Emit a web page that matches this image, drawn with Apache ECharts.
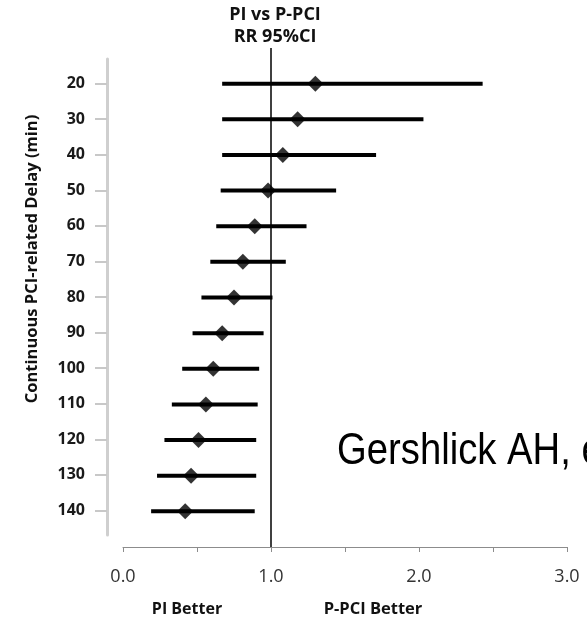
<!DOCTYPE html>
<html>
<head>
<meta charset="utf-8">
<style>
  html, body { margin: 0; padding: 0; background: #fff; }
  #main { width: 587px; height: 617px; }
</style>
</head>
<body>
<div id="main"></div>
<script src="https://cdn.jsdelivr.net/npm/echarts@6/dist/echarts.min.js"></script>
<script>
// delay (min) and RR with 95% CI
var delays = [20, 30, 40, 50, 60, 70, 80, 90, 100, 110, 120, 130, 140];
var rr     = [1.30, 1.18, 1.08, 0.98, 0.89, 0.81, 0.75, 0.67, 0.61, 0.56, 0.51, 0.46, 0.42];
var ciLow  = [0.67, 0.67, 0.67, 0.66, 0.63, 0.59, 0.53, 0.47, 0.40, 0.33, 0.28, 0.23, 0.19];
var ciHigh = [2.43, 2.03, 1.71, 1.44, 1.24, 1.10, 1.01, 0.95, 0.92, 0.91, 0.90, 0.90, 0.89];
var xTicks = [0, 1, 2, 3];

var barData = delays.map(function (d, i) { return [d, ciLow[i], ciHigh[i]]; });
var pointData = delays.map(function (d, i) { return [rr[i], d]; });

var boldFont = '"Open Sans"';

function label(text, x, y, size, extra) {
    var el = {
        type: 'text', x: x, y: y,
        style: {
            text: text, font: 'bold ' + size + 'px ' + boldFont, fill: '#111',
            align: 'center', verticalAlign: 'middle', textAlign: 'center', textVerticalAlign: 'middle'
        }
    };
    if (extra) { for (var k in extra) el[k] = extra[k]; }
    return el;
}

var myChart = echarts.init(document.getElementById('main'));
myChart.setOption({
    backgroundColor: '#fff',
    animation: false,
    grid: [
        { left: 123, right: 20, top: 48, bottom: 70 },
        { left: 107, width: 1, top: 59, bottom: 82 }
    ],
    xAxis: [
        {
            type: 'value',
            gridIndex: 0,
            min: xTicks[0],
            max: xTicks[xTicks.length - 1],
            interval: 1,
            axisLine: { lineStyle: { color: '#8c8c8c', width: 1 } },
            axisTick: { length: 5, lineStyle: { color: '#8c8c8c' } },
            minorTick: { show: true, splitNumber: 2, length: 5, lineStyle: { color: '#8c8c8c' } },
            splitLine: { show: false },
            axisLabel: {
                margin: 21,
                fontSize: 18,
                fontFamily: 'Open Sans',
                color: '#333',
                formatter: function (v) { return v.toFixed(1); }
            }
        },
        { type: 'value', gridIndex: 1, show: false }
    ],
    yAxis: [
        {
            type: 'value',
            gridIndex: 0,
            inverse: true,
            min: 10,
            max: 150,
            show: false
        },
        {
            type: 'value',
            gridIndex: 1,
            inverse: true,
            min: 13.1,
            max: 146.9,
            axisLine: { show: true, lineStyle: { color: '#cfcfcf', width: 3 } },
            axisTick: { show: true, customValues: delays, length: 12, lineStyle: { color: '#c8c8c8', width: 2 } },
            splitLine: { show: false },
            axisLabel: {
                customValues: delays,
                margin: 22,
                fontSize: 16,
                fontWeight: 'bold',
                fontFamily: 'Open Sans',
                color: '#1a1a1a'
            }
        }
    ],
    series: [
        {
            type: 'custom',
            xAxisIndex: 0,
            yAxisIndex: 0,
            encode: { x: [1, 2], y: 0 },
            data: barData,
            renderItem: function (params, api) {
                var y = api.value(0);
                var p1 = api.coord([api.value(1), y]);
                var p2 = api.coord([api.value(2), y]);
                return {
                    type: 'line',
                    shape: { x1: p1[0], y1: p1[1], x2: p2[0], y2: p2[1] },
                    style: { stroke: '#000', lineWidth: 4, lineCap: 'butt' }
                };
            }
        },
        {
            type: 'scatter',
            xAxisIndex: 0,
            yAxisIndex: 0,
            symbol: 'diamond',
            symbolSize: [16, 16],
            itemStyle: { color: '#000' },
            z: 5,
            data: pointData,
            markLine: {
                silent: true,
                symbol: ['none', 'none'],
                label: { show: false },
                lineStyle: { color: '#000', width: 1.5, type: 'solid' },
                data: [{ xAxis: 1 }]
            }
        }
    ],
    graphic: [
        label('PI vs P-PCI', 275, 15, 18),
        label('RR 95%CI', 275, 37, 18),
        label('Continuous PCI-related Delay (min)', 32, 259, 16.5, { rotation: Math.PI / 2 }),
        label('PI Better', 187, 609, 16),
        label('P-PCI Better', 373, 609, 16.5),
        { type: 'text', x: 337, y: 452, scaleX: 0.85, style: { text: 'Gershlick AH, et al.', font: '45px "Liberation Sans"', fill: '#000', align: 'left', verticalAlign: 'middle', textAlign: 'left', textVerticalAlign: 'middle' } }
    ]
});
</script>
</body>
</html>
